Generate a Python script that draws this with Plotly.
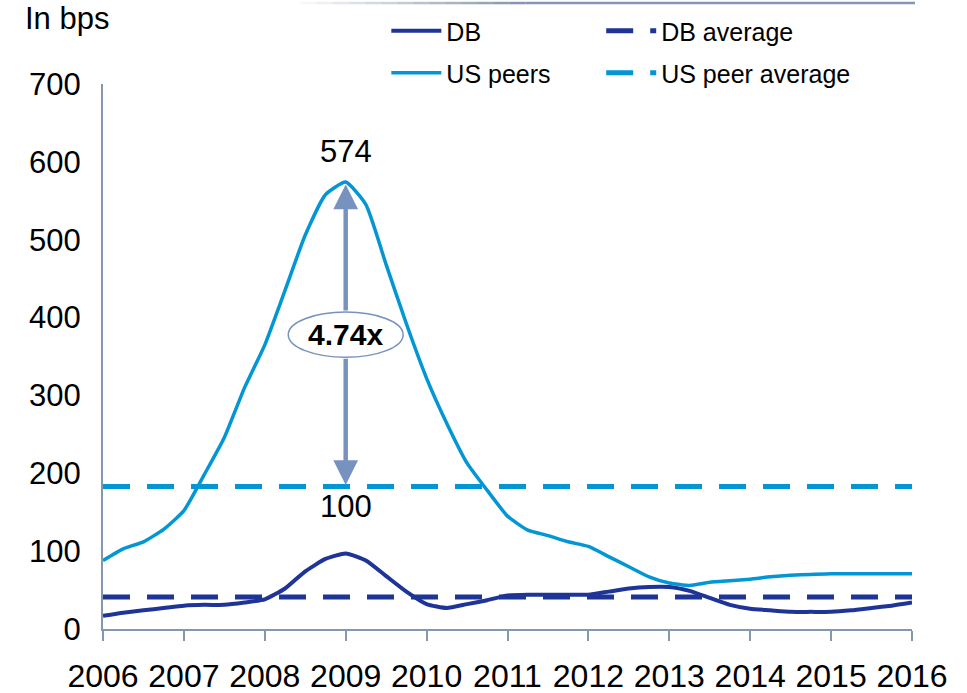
import plotly.graph_objects as go

# Quarterly observation points, 2006 to 2016
quarters = [2006 + 0.25 * i for i in range(41)]

us_peers = [88, 103, 112, 128, 152, 198, 246, 310, 365, 435, 506, 558, 574,
            545, 468, 392, 322, 264, 213, 178, 145, 127, 120, 112, 106, 93,
            80, 67, 59, 56, 60, 62, 64, 67, 69, 70, 71, 71, 71, 71, 71]

db = [17, 21, 24, 27, 30, 31, 31, 34, 38, 52, 74, 90, 97, 88, 68, 48, 32,
      27, 32, 37, 43, 44, 44, 44, 44, 48, 52, 54, 54, 49, 40, 31, 26, 24,
      22, 22, 22, 24, 27, 30, 34]

db_average = 41
us_peer_average = 183

peak_year = 2009
peak_value = 574
peak_label = "574"
base_label = "100"
ratio_label = "4.74x"

year_ticks = list(range(2006, 2017))
y_ticks = list(range(0, 701, 100))

DB_COLOR = "#1F3497"
US_COLOR = "#0396D5"
AXIS_COLOR = "#8497B0"
ARROW_COLOR = "#7892C0"
FONT = "Liberation Sans, Arial, sans-serif"

# plot area in pixels
L, R, T, B = 102.5, 55, 84, 63.7
PW, PH = 967 - L - R, 693 - T - B


def px_x(p):
    return (p - L) / PW


def px_y(p):
    return 1 + (T - p) / PH


fig = go.Figure()

fig.add_trace(go.Scatter(
    x=quarters, y=db, mode="lines", name="DB",
    line=dict(color=DB_COLOR, width=4, shape="spline", smoothing=0.5),
    legend="legend"))
fig.add_trace(go.Scatter(
    x=[year_ticks[0], year_ticks[-1]], y=[db_average, db_average],
    mode="lines", name="DB average",
    line=dict(color=DB_COLOR, width=5, dash="27px,17px"),
    legend="legend2"))
fig.add_trace(go.Scatter(
    x=quarters, y=us_peers, mode="lines", name="US peers",
    line=dict(color=US_COLOR, width=3.5, shape="spline", smoothing=0.5),
    legend="legend3"))
fig.add_trace(go.Scatter(
    x=[year_ticks[0], year_ticks[-1]], y=[us_peer_average, us_peer_average],
    mode="lines", name="US peer average",
    line=dict(color=US_COLOR, width=5, dash="27px,17px"),
    legend="legend4"))

# Ellipse behind the multiple label
ell_y0, ell_y1 = 349, 407
shapes = [dict(type="circle", xref="x", yref="y",
               x0=peak_year - 0.71, x1=peak_year + 0.71, y0=ell_y0, y1=ell_y1,
               fillcolor="white", line=dict(color=ARROW_COLOR, width=1.5),
               layer="above")]

# Decorative rule across the top of the slide, fading in from the left
top_y = px_y(3)
n_fade = 14
x_start, x_fade_end, x_end = px_x(300), px_x(525), px_x(915)
c_end = (0x84, 0x97, 0xB0)
for i in range(n_fade):
    f = (i + 1) / n_fade
    col = tuple(int(255 + (c - 255) * f) for c in c_end)
    xa = x_start + (x_fade_end - x_start) * i / n_fade
    xb = x_start + (x_fade_end - x_start) * (i + 1) / n_fade
    shapes.append(dict(type="line", xref="paper", yref="paper",
                       x0=xa, x1=xb, y0=top_y, y1=top_y,
                       line=dict(color="rgb(%d,%d,%d)" % col, width=2.5)))
shapes.append(dict(type="line", xref="paper", yref="paper",
                   x0=x_fade_end, x1=x_end, y0=top_y, y1=top_y,
                   line=dict(color="rgb(%d,%d,%d)" % c_end, width=2.5)))

annotations = [
    # arrow from ellipse up to the peak
    dict(x=peak_year, y=peak_value - 3, ax=peak_year, ay=ell_y1,
         xref="x", yref="y", axref="x", ayref="y", text="", showarrow=True,
         arrowhead=2, arrowsize=1.1, arrowwidth=4.5, arrowcolor=ARROW_COLOR),
    # arrow from ellipse down to the peer average
    dict(x=peak_year, y=us_peer_average + 2, ax=peak_year, ay=ell_y0,
         xref="x", yref="y", axref="x", ayref="y", text="", showarrow=True,
         arrowhead=2, arrowsize=1.1, arrowwidth=4.5, arrowcolor=ARROW_COLOR),
    dict(x=peak_year, y=(ell_y0 + ell_y1) / 2, xref="x", yref="y",
         text="<b>" + ratio_label + "</b>", showarrow=False,
         font=dict(family=FONT, size=30, color="black")),
    dict(x=peak_year, y=peak_value, xref="x", yref="y", text=peak_label,
         showarrow=False, yshift=31,
         font=dict(family=FONT, size=31, color="black")),
    dict(x=peak_year, y=us_peer_average, xref="x", yref="y", text=base_label,
         showarrow=False, yshift=-20,
         font=dict(family=FONT, size=31, color="black")),
    dict(x=px_x(22), y=px_y(18), xref="paper", yref="paper",
         xanchor="left", yanchor="middle", text="In bps", showarrow=False,
         font=dict(family=FONT, size=31, color="black")),
]

legend_common = dict(orientation="h", xanchor="left", yanchor="middle",
                     font=dict(family=FONT, size=25, color="black"),
                     bgcolor="rgba(0,0,0,0)", itemwidth=50)

col1_x, col2_x = px_x(386), px_x(601)
row1_y, row2_y = px_y(31), px_y(73)

fig.update_layout(
    width=967, height=693,
    margin=dict(l=L, r=R, t=T, b=B, pad=0, autoexpand=False),
    paper_bgcolor="white", plot_bgcolor="white",
    font=dict(family=FONT, color="black"),
    showlegend=True,
    legend=dict(x=col1_x, y=row1_y, **legend_common),
    legend2=dict(x=col2_x, y=row1_y, **legend_common),
    legend3=dict(x=col1_x, y=row2_y, **legend_common),
    legend4=dict(x=col2_x, y=row2_y, **legend_common),
    xaxis=dict(range=[year_ticks[0], year_ticks[-1]], tickmode="array",
               tickvals=year_ticks, ticktext=[str(y) for y in year_ticks],
               tickangle=0, showgrid=False, zeroline=False, automargin=False,
               showline=True, linecolor=AXIS_COLOR, linewidth=2,
               ticks="outside", ticklen=10, tickwidth=2, tickcolor=AXIS_COLOR,
               ticklabelstandoff=8,
               tickfont=dict(family=FONT, size=32, color="black")),
    yaxis=dict(range=[0, 700], tickmode="array", tickvals=y_ticks,
               showgrid=False, zeroline=False, automargin=False,
               showline=True, linecolor=AXIS_COLOR, linewidth=2,
               ticks="", ticklabelstandoff=14,
               tickfont=dict(family=FONT, size=31, color="black")),
    shapes=shapes,
    annotations=annotations,
)

fig.write_html("out.html")
